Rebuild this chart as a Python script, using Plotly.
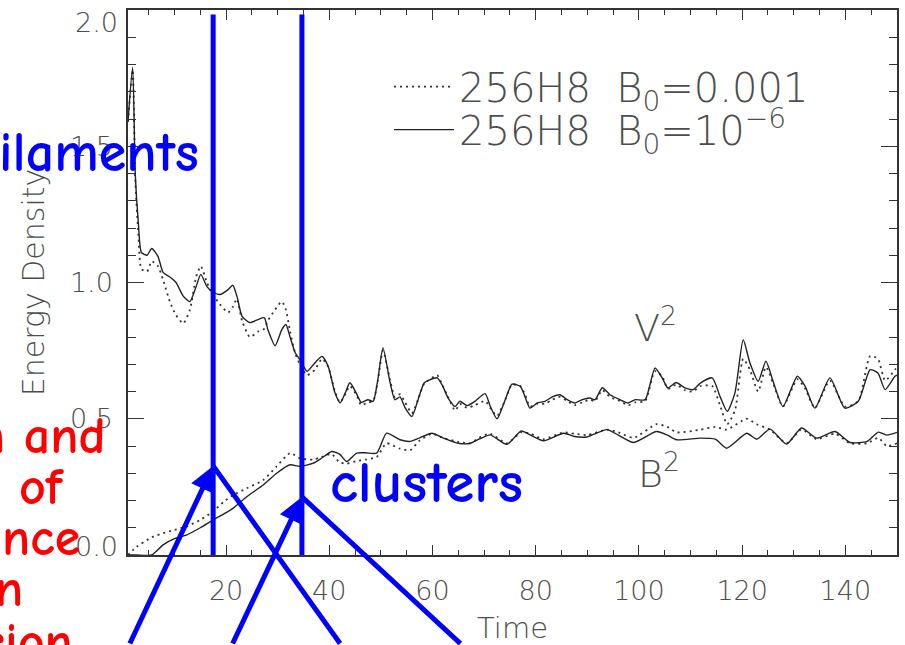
import plotly.graph_objects as go

# ---------------- data ----------------
t_v = [1.0, 1.9, 2.4, 3.0, 3.6, 4.7, 5.6, 6.8, 7.8, 9.1, 10.3, 11.7, 13.0, 14.2, 15.1,
       16.3, 17.3, 18.8, 20.4, 21.3, 22.1, 23.1, 24.6, 26.2, 27.4, 28.1, 29.5, 30.8,
       31.6, 32.4, 33.4, 34.3, 35.7, 37.2, 38.6, 39.8, 41.1, 42.1, 43.1, 44.0, 45.2,
       46.2, 47.5, 48.5, 49.4, 50.4, 51.8, 52.7, 53.7, 54.7, 56.0, 57.2, 58.4, 59.5,
       60.9, 62.0, 63.0, 64.4, 65.3, 66.7, 68.2, 70.2, 71.2, 72.5, 74.1, 75.4, 77.0,
       77.9, 78.9, 80.3, 81.8, 83.2, 84.7, 86.1, 87.6, 89.0, 90.5, 91.5, 92.9, 94.4,
       96.3, 97.9, 99.3, 101.2, 103.1, 104.5, 105.6, 107.2, 108.9, 110.5, 111.9, 114.2,
       115.7, 117.1, 118.6, 120.2, 121.5, 123.1, 124.6, 126.0, 127.9, 130.7, 132.2,
       134.1, 137.0, 139.9, 142.5, 144.8, 146.3, 147.7, 149.6, 150.0]

v2_b6 = [1.59, 1.79, 1.40, 1.22, 1.11, 1.10, 1.125, 1.096, 1.037, 1.02, 1.00, 0.95, 0.93,
         0.985, 1.03, 0.985, 0.967, 0.956, 0.974, 0.99, 0.95, 0.876, 0.853, 0.864, 0.871,
         0.827, 0.768, 0.827, 0.846, 0.80, 0.742, 0.717, 0.674, 0.705, 0.729, 0.692,
         0.595, 0.558, 0.595, 0.632, 0.595, 0.56, 0.57, 0.564, 0.643, 0.76, 0.632, 0.57,
         0.58, 0.54, 0.508, 0.57, 0.632, 0.643, 0.65, 0.619, 0.577, 0.545, 0.564, 0.548,
         0.564, 0.592, 0.545, 0.50, 0.57, 0.627, 0.619, 0.582, 0.539, 0.558, 0.564, 0.58,
         0.588, 0.57, 0.558, 0.57, 0.576, 0.57, 0.614, 0.588, 0.57, 0.558, 0.57, 0.57,
         0.686, 0.65, 0.613, 0.633, 0.613, 0.607, 0.631, 0.65, 0.582, 0.527, 0.595, 0.79,
         0.705, 0.637, 0.711, 0.637, 0.545, 0.656, 0.619, 0.539, 0.65, 0.539, 0.564, 0.68,
         0.668, 0.607, 0.656, 0.66]

v2_b3 = [1.59, 1.78, 1.38, 1.18, 1.05, 1.04, 1.078, 1.06, 1.01, 0.93, 0.88, 0.85, 0.90,
         1.02, 1.06, 1.00, 0.96, 0.92, 0.89, 0.91, 0.94, 0.86, 0.80, 0.82, 0.83, 0.86,
         0.90, 0.93, 0.90, 0.82, 0.74, 0.70, 0.66, 0.68, 0.72, 0.69, 0.60, 0.56, 0.59,
         0.62, 0.59, 0.55, 0.56, 0.565, 0.64, 0.75, 0.64, 0.58, 0.59, 0.56, 0.52, 0.57,
         0.63, 0.645, 0.66, 0.62, 0.58, 0.53, 0.555, 0.54, 0.55, 0.565, 0.54, 0.51, 0.57,
         0.625, 0.62, 0.59, 0.545, 0.555, 0.555, 0.57, 0.58, 0.565, 0.55, 0.56, 0.57,
         0.565, 0.605, 0.58, 0.565, 0.55, 0.56, 0.565, 0.675, 0.655, 0.61, 0.625, 0.605,
         0.60, 0.62, 0.62, 0.55, 0.48, 0.53, 0.72, 0.68, 0.60, 0.69, 0.63, 0.545, 0.645,
         0.61, 0.54, 0.64, 0.545, 0.565, 0.73, 0.72, 0.64, 0.68, 0.69]

t_b = [1.0, 2.7, 5.6, 7.8, 10.0, 12.4, 15.0, 17.5, 19.5, 21.4, 24.0, 27.2, 29.8, 32.4,
       34.3, 36.9, 38.5, 40.5, 42.0, 43.4, 45.3, 47.0, 49.2, 51.1, 53.7, 55.7, 57.5,
       59.9, 62.0, 65.0, 67.3, 69.0, 71.2, 74.4, 77.2, 79.0, 81.5, 85.4, 87.5, 89.9,
       93.8, 96.0, 99.0, 103.4, 105.5, 107.3, 111.9, 114.8, 117.0, 120.9, 122.8, 125.4,
       128.6, 131.5, 134.4, 138.0, 140.9, 144.2, 146.4, 148.0, 150.0]

b2_b6 = [0.0, 0.0, 0.0, 0.037, 0.06, 0.074, 0.10, 0.129, 0.15, 0.172, 0.214, 0.257, 0.30,
         0.331, 0.325, 0.337, 0.355, 0.38, 0.37, 0.343, 0.374, 0.375, 0.374, 0.447, 0.423,
         0.417, 0.43, 0.447, 0.43, 0.41, 0.41, 0.425, 0.441, 0.406, 0.455, 0.44, 0.419,
         0.447, 0.435, 0.433, 0.46, 0.44, 0.413, 0.453, 0.44, 0.423, 0.429, 0.425, 0.392,
         0.447, 0.425, 0.462, 0.407, 0.466, 0.429, 0.453, 0.413, 0.417, 0.451, 0.44, 0.45]

b2_b3 = [0.0, 0.03, 0.065, 0.08, 0.092, 0.105, 0.129, 0.16, 0.195, 0.22, 0.245, 0.275,
         0.325, 0.374, 0.355, 0.35, 0.36, 0.37, 0.34, 0.335, 0.345, 0.35, 0.36, 0.41, 0.39,
         0.385, 0.42, 0.445, 0.43, 0.415, 0.41, 0.43, 0.445, 0.41, 0.45, 0.445, 0.425,
         0.45, 0.445, 0.44, 0.46, 0.45, 0.43, 0.48, 0.47, 0.45, 0.46, 0.47, 0.46, 0.50,
         0.48, 0.46, 0.41, 0.46, 0.425, 0.445, 0.41, 0.41, 0.43, 0.40, 0.41]

name_b3 = "256H8  B<sub>0</sub>=0.001"
name_b6 = "256H8  B<sub>0</sub>=10<sup>\u22126</sup>"

y_ticks = [0.0, 0.5, 1.0, 1.5, 2.0]
y_ticktext = ["0.0", "0.5", "1.0", "1.5", "2.0"]
# the end labels are nudged inward in the original (IDL style), drawn separately
y_inner_text = ["", "0.5", "1.0", "1.5", ""]

marked_times = [17.5, 34.7]

# ---------------- figure ----------------
grey = "#4d4d4d"
fam = "DejaVu Sans, Liberation Sans, sans-serif"
axfont = dict(family=fam, size=27, color=grey, weight=200)
dot = "2px,4px"

fig = go.Figure()
fig.add_trace(go.Scatter(x=t_v, y=v2_b3, mode="lines", name=name_b3, legendgroup="b3", legend="legend",
                         line=dict(color="#333333", width=1.8, dash=dot, shape="spline", smoothing=0.6)))
fig.add_trace(go.Scatter(x=t_v, y=v2_b6, mode="lines", name=name_b6, legendgroup="b6", legend="legend2",
                         line=dict(color="#222222", width=1.4, shape="spline", smoothing=0.6)))
fig.add_trace(go.Scatter(x=t_b, y=b2_b3, mode="lines", name=name_b3, legendgroup="b3", showlegend=False,
                         line=dict(color="#333333", width=1.8, dash=dot, shape="spline", smoothing=0.6)))
fig.add_trace(go.Scatter(x=t_b, y=b2_b6, mode="lines", name=name_b6, legendgroup="b6", showlegend=False,
                         line=dict(color="#222222", width=1.4, shape="spline", smoothing=0.6)))

axis_common = dict(showline=True, linecolor="#333333", linewidth=1.5, mirror="ticks",
                   ticks="inside", tickcolor="#333333", tickwidth=1.3, showgrid=False,
                   zeroline=False, tickfont=axfont, ticklabeloverflow="allow", automargin=False)

fig.update_xaxes(range=[1, 150], tick0=0, dtick=20, ticklen=10, ticklabelstandoff=11,
                 minor=dict(dtick=5, tick0=0, ticklen=5, ticks="inside", tickcolor="#333333", showgrid=False),
                 title=dict(text="Time", font=dict(family=fam, size=29, color=grey, weight=200), standoff=24),
                 **axis_common)
fig.update_yaxes(range=[0, 2], tickmode="array", tickvals=y_ticks, ticktext=y_inner_text,
                 ticklen=16, ticklabelstandoff=8,
                 minor=dict(tickmode="linear", dtick=0.1, tick0=0, ticklen=8, ticks="inside",
                            tickcolor="#333333", showgrid=False),
                 title=dict(text="Energy Density", font=dict(family=fam, size=30, color=grey, weight=200), standoff=16),
                 **axis_common)

comic = "Comic Sans MS, Comic Neue, Noto Sans, sans-serif"
ann = []
# end tick labels, nudged inward like the original
for val, txt, shift in [(y_ticks[-1], y_ticktext[-1], -12), (y_ticks[0], y_ticktext[0], 9)]:
    ann.append(dict(x=0, y=val, xref="paper", yref="y", text=txt, showarrow=False,
                    xanchor="right", yanchor="middle", xshift=-8, yshift=shift, font=axfont))
# curve labels
ann.append(dict(x=103.2, y=0.845, xref="x", yref="y", text="V<sup>2</sup>", showarrow=False,
                font=dict(family=fam, size=38, color=grey, weight=200)))
ann.append(dict(x=103.8, y=0.31, xref="x", yref="y", text="B<sup>2</sup>", showarrow=False,
                font=dict(family=fam, size=38, color=grey, weight=200)))


def px2paper_x(px):
    return (px - 128) / 769.0


def px2paper_y(py):
    return (555 - py) / 544.5


# slide overlay text (blue / red)
ann.append(dict(x=px2paper_x(201), y=px2paper_y(153), xref="paper", yref="paper", text="ilaments",
                xanchor="right", yanchor="middle", showarrow=False,
                font=dict(family=comic, size=56, color="#0000ff", weight="bold")))
ann.append(dict(x=px2paper_x(328), y=px2paper_y(483), xref="paper", yref="paper", text="clusters",
                xanchor="left", yanchor="middle", showarrow=False,
                font=dict(family=comic, size=59, color="#0000ff", weight="bold")))
red_lines = [("n and", 108, 436), ("of", 67, 487), ("nce", 82, 538), ("n", 25, 589), ("sion", 75, 642)]
for txt, rx, cy in red_lines:
    ann.append(dict(x=px2paper_x(rx), y=px2paper_y(cy), xref="paper", yref="paper", text=txt,
                    xanchor="right", yanchor="middle", showarrow=False,
                    font=dict(family=comic, size=52, color="#ff0000", weight="bold")))

# arrows converging on the marked times
heads = [(marked_times[0], px2paper_y(466), -84, 200, 128, 205),
         (marked_times[1], px2paper_y(497), -70, 170, 160, 168)]
for xh, yh, axl, ayl, axr, ayr in heads:
    ann.append(dict(x=xh, y=yh, xref="x", yref="paper", text="", showarrow=True, ax=axl, ay=ayl,
                    arrowhead=2, arrowsize=1.0, arrowwidth=5, arrowcolor="#0000ff"))
    ann.append(dict(x=xh, y=yh, xref="x", yref="paper", text="", showarrow=True, ax=axr, ay=ayr,
                    arrowhead=0, arrowwidth=5, arrowcolor="#0000ff"))

shapes = []
for tm in marked_times:
    shapes.append(dict(type="line", xref="x", yref="paper", x0=tm, x1=tm, y0=0, y1=px2paper_y(15),
                       line=dict(color="#0000ff", width=5), layer="above"))

leg_common = dict(xanchor="left", yanchor="middle", bgcolor="rgba(0,0,0,0)",
                  font=dict(family=fam, size=40, color=grey, weight=200), itemwidth=60)

fig.update_layout(
    width=905, height=645,
    margin=dict(l=128, r=8, t=10, b=90, autoexpand=False),
    paper_bgcolor="white", plot_bgcolor="white",
    showlegend=True,
    legend=dict(x=px2paper_x(389), y=px2paper_y(87), **leg_common),
    legend2=dict(x=px2paper_x(389), y=px2paper_y(130), **leg_common),
    annotations=ann,
    shapes=shapes,
)

fig.write_html("out.html")
